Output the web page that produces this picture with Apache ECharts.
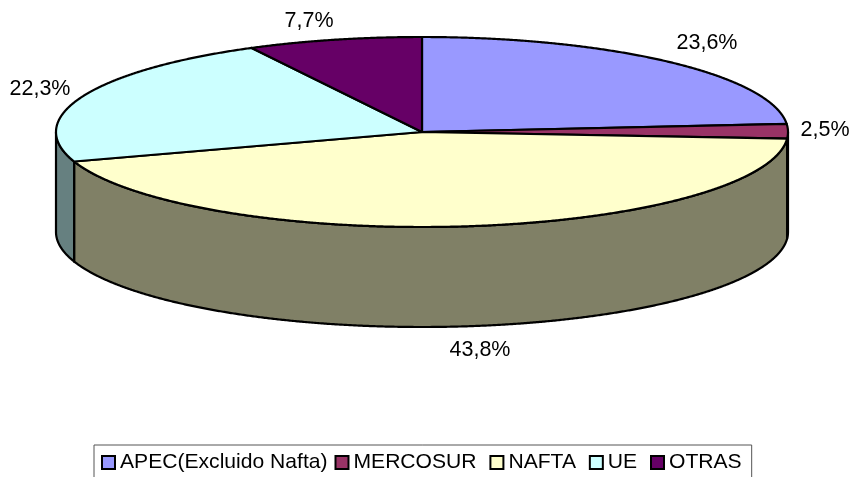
<!DOCTYPE html>
<html><head><meta charset="utf-8">
<style>html,body{margin:0;padding:0;background:#fff}#c{width:854px;height:477px}</style>
<script src="https://cdn.jsdelivr.net/npm/echarts@6/dist/echarts.min.js"></script>
</head><body><div id="c"></div>
<script>
const categories = ['APEC(Excluido Nafta)', 'MERCOSUR', 'NAFTA', 'UE', 'OTRAS'];
const shares = [23.6, 2.5, 43.8, 22.3, 7.7];
const valueLabels = ['23,6%', '2,5%', '43,8%', '22,3%', '7,7%'];
const faceColors = ['#9999FF', '#993366', '#FFFFCC', '#CCFFFF', '#660066'];
const sideColors = ['#4D4D80', '#4D1A33', '#808066', '#668080', '#330033'];

// Page layout of the tilted pie and of its outside labels
const view = { cx: 422, cy: 132, rx: 366, ry: 95, depth: 100 };
const labelSpots = [[707, 43], [825, 130], [480, 350], [40, 89], [309, 21]];
const FONT = '21.5px "Liberation Sans", Arial, sans-serif';

const total = shares.reduce((a, b) => a + b, 0);
const pt = (deg, dy) => {
  const r = deg * Math.PI / 180;
  return [view.cx + view.rx * Math.sin(r), view.cy - view.ry * Math.cos(r) + (dy || 0)];
};
const arc = (from, to, dy) => {
  const out = [], n = Math.max(2, Math.ceil(Math.abs(to - from) * 4));
  for (let i = 0; i <= n; i++) out.push(pt(from + (to - from) * i / n, dy));
  return out;
};

function renderSlice(params, api) {
  const i = params.seriesIndex;
  const before = shares.slice(0, i).reduce((a, b) => a + b, 0);
  const a0 = before / total * 360;
  const a1 = a0 + api.value(0) / total * 360;
  const line = { stroke: '#000', lineWidth: 2.2, lineJoin: 'round' };
  const children = [];
  const s0 = Math.max(a0, 90), s1 = Math.min(a1, 270);
  if (s1 > s0) {
    children.push({
      type: 'polygon',
      shape: { points: arc(s0, s1, 0).concat(arc(s1, s0, view.depth)) },
      style: Object.assign({ fill: sideColors[i] }, line)
    });
  }
  children.push({
    type: 'polygon',
    shape: { points: [[view.cx, view.cy]].concat(arc(a0, a1, 0)) },
    style: Object.assign({ fill: faceColors[i] }, line)
  });
  children.push({
    type: 'text',
    style: {
      text: valueLabels[i], x: labelSpots[i][0], y: labelSpots[i][1],
      fill: '#000', font: FONT, align: 'center', verticalAlign: 'middle'
    }
  });
  return { type: 'group', children };
}

const chart = echarts.init(document.getElementById('c'), null, { renderer: 'canvas' });
chart.setOption({
  animation: false,
  backgroundColor: '#fff',
  legend: {
    left: 94, top: 445,
    padding: [7, 10, 20, 7],
    itemGap: 7, itemWidth: 13, itemHeight: 13,
    icon: 'rect',
    borderColor: '#555', borderWidth: 1,
    backgroundColor: '#fff',
    selectedMode: false,
    data: categories,
    // the original spaces the short entries a little wider than the first one
    formatter: name => (name === categories[0] || name === categories[4]) ? name : name + '\u00A0',
    textStyle: { fontFamily: '"Liberation Sans", Arial, sans-serif', fontSize: 21.1, color: '#000' }
  },
  series: categories.map((name, i) => ({
    type: 'custom',
    name,
    coordinateSystem: 'none',
    silent: true,
    itemStyle: { color: faceColors[i], borderColor: '#000', borderWidth: 2 },
    renderItem: renderSlice,
    data: [[shares[i]]]
  }))
});
</script></body></html>
